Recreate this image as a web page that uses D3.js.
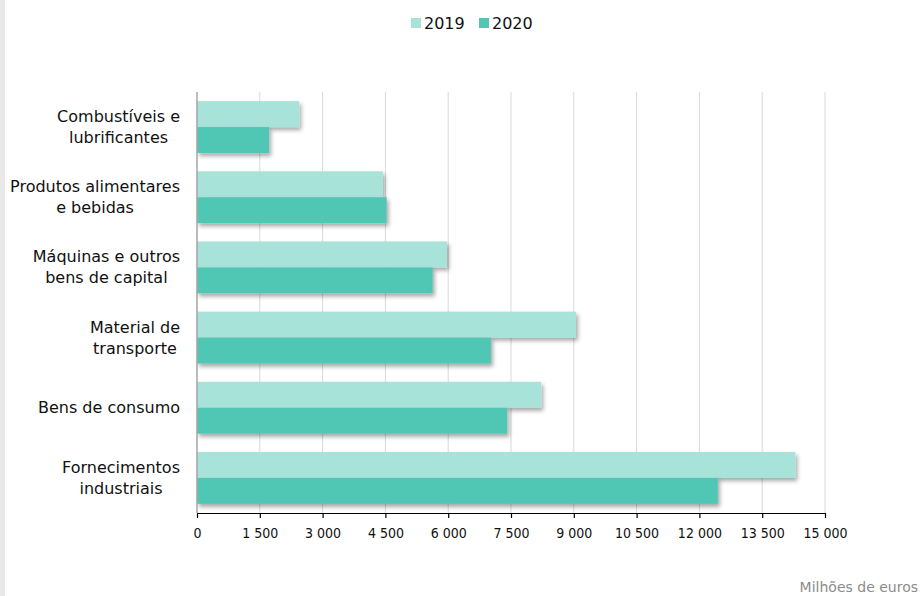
<!DOCTYPE html>
<html>
<head>
<meta charset="utf-8">
<script src="https://cdn.jsdelivr.net/npm/d3@7"></script>
<style>
  body { margin: 0; background: #fff; }
  svg { display: block; }
</style>
</head>
<body>
<div class="canvas"></div>
<script>
// Data (milhões de euros)
const categories = [
    ["Combustíveis e", "lubrificantes"],
    ["Produtos alimentares", "e bebidas"],
    ["Máquinas e outros", "bens de capital"],
    ["Material de", "transporte"],
    ["Bens de consumo"],
    ["Fornecimentos", "industriais"]
];
const values2019 = [2440, 4440, 5970, 9050, 8220, 14290];
const values2020 = [1720, 4530, 5630, 7020, 7410, 12440];
const seriesNames = ["2019", "2020"];
const seriesColours = ["#a8e3da", "#4fc7b4"];
const tickValues = [0, 1500, 3000, 4500, 6000, 7500, 9000, 10500, 12000, 13500, 15000];
const unitLabel = "Milhões de euros";

const width = 922, height = 596;
const narrowFont = "'DejaVu Sans Condensed', 'Noto Sans', sans-serif";
const wideFont = "'DejaVu Sans', 'Noto Sans', sans-serif";

const svg = d3.select(".canvas")
    .append("svg")
    .attr("width", width)
    .attr("height", height);

// light grey strip on the left edge
svg.append("rect")
    .attr("x", 0).attr("y", 0)
    .attr("width", 5).attr("height", height)
    .attr("fill", "#e8e8e8");

// drop shadow for bars
const defs = svg.append("defs");
defs.append("filter")
    .attr("id", "shadow")
    .attr("x", "-5%").attr("y", "-20%")
    .attr("width", "115%").attr("height", "160%")
    .append("feDropShadow")
    .attr("dx", 2).attr("dy", 3)
    .attr("stdDeviation", 2)
    .attr("flood-color", "#000")
    .attr("flood-opacity", 0.35);

const plot = { left: 197, right: 825, top: 92, bottom: 513 };

// Scales
const x = d3.scaleLinear()
    .domain([0, 15000])
    .range([plot.left, plot.right]);

const y = d3.scaleBand()
    .domain(d3.range(categories.length))
    .range([plot.top, plot.bottom])
    .paddingInner(0.26)
    .paddingOuter(0.13);

const ySub = d3.scaleBand()
    .domain(seriesNames)
    .range([0, y.bandwidth()]);

// Gridlines
svg.append("g")
    .selectAll("line")
    .data(tickValues.slice(1))
    .enter()
    .append("line")
    .attr("x1", d => x(d)).attr("x2", d => x(d))
    .attr("y1", plot.top).attr("y2", plot.bottom)
    .attr("stroke", "#d9d9d9")
    .attr("stroke-width", 1);

// Bars
const rows = categories.map((c, i) => ({ i, vals: [values2019[i], values2020[i]] }));

const groups = svg.append("g")
    .selectAll("g")
    .data(rows)
    .enter()
    .append("g")
    .attr("transform", d => `translate(0, ${y(d.i)})`);

groups.selectAll("rect")
    .data(d => d.vals.map((v, k) => ({ v, k })))
    .enter()
    .append("rect")
    .attr("x", x(0))
    .attr("y", d => ySub(seriesNames[d.k]))
    .attr("width", d => x(d.v) - x(0))
    .attr("height", ySub.bandwidth())
    .attr("fill", d => seriesColours[d.k])
    .attr("filter", "url(#shadow)");

// Vertical axis line (grey)
svg.append("line")
    .attr("x1", x(0)).attr("x2", x(0))
    .attr("y1", plot.top).attr("y2", plot.bottom)
    .attr("stroke", "#a6a6a6")
    .attr("stroke-width", 1.5);

// X axis
const xAxis = d3.axisBottom(x)
    .tickValues(tickValues)
    .tickSize(5)
    .tickSizeOuter(0)
    .tickFormat(d => d3.format(",")(d).replace(/,/g, " "));

const xAxisGroup = svg.append("g")
    .attr("transform", `translate(0, ${plot.bottom})`)
    .call(xAxis);

xAxisGroup.select(".domain").attr("stroke", "#000").attr("stroke-width", 1.2);
xAxisGroup.selectAll(".tick line").attr("stroke", "#000").attr("stroke-width", 1.2);
xAxisGroup.selectAll(".tick text")
    .attr("y", 15)
    .attr("font-family", narrowFont)
    .attr("font-size", 14)
    .attr("fill", "#111");

// Category labels: lines centred, block right-aligned
const labelRight = 180;
const lineHeight = 21;
categories.forEach((lines, i) => {
    const cy = y(i) + y.bandwidth() / 2;
    const g = svg.append("g");
    const texts = g.selectAll("text")
        .data(lines)
        .enter()
        .append("text")
        .attr("font-family", wideFont)
        .attr("font-size", 16)
        .attr("fill", "#111")
        .attr("text-anchor", "middle")
        .attr("dominant-baseline", "central")
        .attr("y", (d, k) => cy + (k - (lines.length - 1) / 2) * lineHeight)
        .text(d => d);
    let maxW = 0;
    texts.each(function () { maxW = Math.max(maxW, this.getComputedTextLength()); });
    texts.attr("x", labelRight - maxW / 2);
});

// Legend
const legend = svg.append("g");
const legendX = [411, 479];
seriesNames.forEach((name, k) => {
    legend.append("rect")
        .attr("x", legendX[k]).attr("y", 18)
        .attr("width", 10).attr("height", 10)
        .attr("fill", seriesColours[k]);
    legend.append("text")
        .attr("x", legendX[k] + 13).attr("y", 23)
        .attr("dominant-baseline", "central")
        .attr("font-family", wideFont)
        .attr("font-size", 16)
        .attr("fill", "#111")
        .text(name);
});

// Unit note
svg.append("text")
    .attr("x", 918).attr("y", 592)
    .attr("text-anchor", "end")
    .attr("font-family", wideFont)
    .attr("font-size", 14)
    .attr("fill", "#8c8c8c")
    .text(unitLabel);
</script>
</body>
</html>
